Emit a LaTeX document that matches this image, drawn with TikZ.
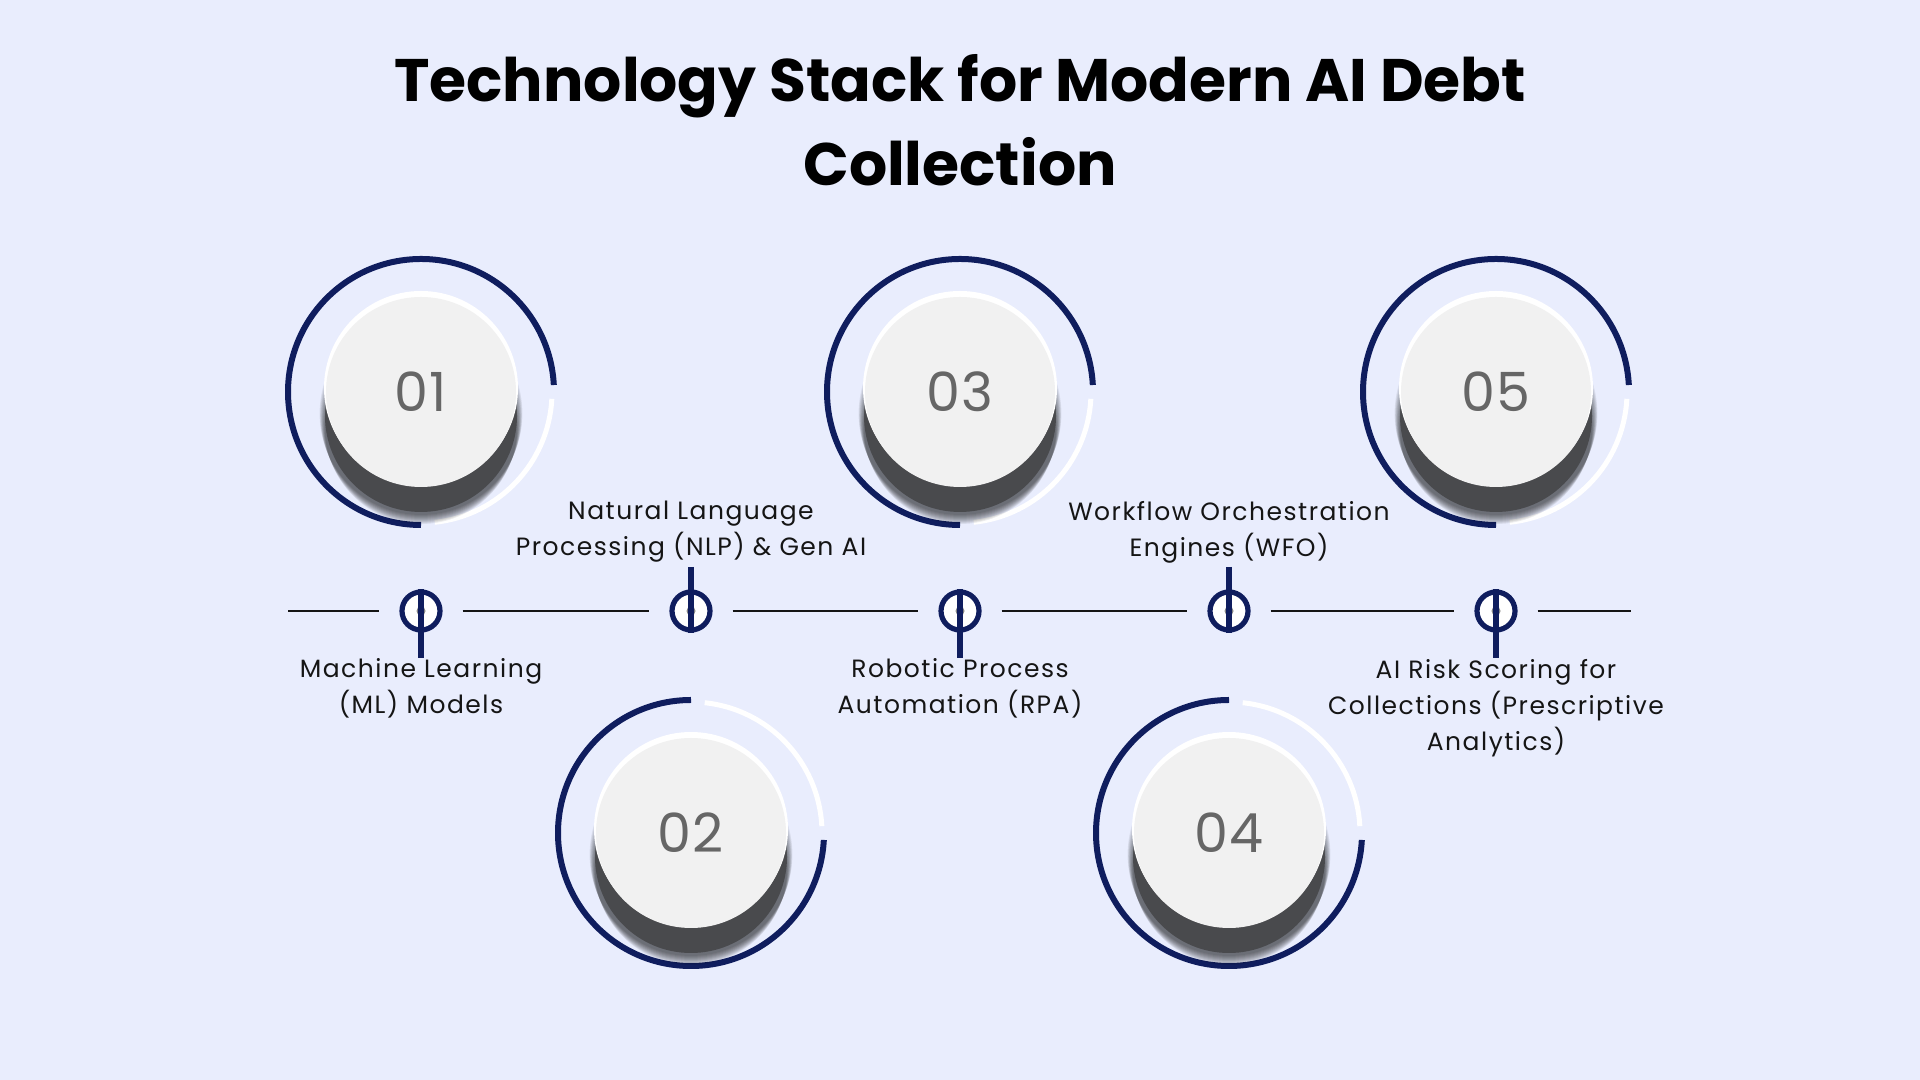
\documentclass[tikz,border=0pt]{standalone}
\usepackage{fontspec}
\setmainfont{Poppins}
\definecolor{bg}{HTML}{E9EDFD}
\definecolor{navy}{HTML}{0F1D5E}
\definecolor{disk}{HTML}{F1F1F1}
\definecolor{numc}{HTML}{666666}
\definecolor{txt}{HTML}{151515}
\tikzset{
  lbl/.style={align=center,font=\fontsize{12.5}{18}\selectfont\addfontfeatures{LetterSpace=6},text=txt},
  numtxt/.style={font=\fontsize{27}{30}\selectfont\addfontfeatures{LetterSpace=2},text=numc},
  dot/.style={circle,draw=navy,line width=2.6pt,fill=white,minimum size=19pt,inner sep=0pt},
  ring/.style={draw=navy,line width=3pt},
  wring/.style={draw=white,line width=2.5pt},
  hline/.style={draw=txt,line width=1.1pt}
}
\begin{document}
\begin{tikzpicture}[x=0.5pt,y=0.5pt]
\fill[bg] (0,0) rectangle (1920,1080);
\node[font=\fontsize{30}{42}\selectfont\bfseries,align=center,text=black] (title) at (960,960) {Technology Stack for Modern AI Debt\\Collection};
% dots
\foreach \i/\x in {1/421,2/691,3/960,4/1229,5/1496}{
  \node[dot] (d\i) at (\x,469) {};
  \fill[numc!80] (d\i) circle (4.5);
}
\coordinate (L0) at (288,469);
\coordinate (L6) at (1631,469);
\draw[hline] (L0) -- ([xshift=-10]d1.west);
\draw[hline] ([xshift=10]d1.east) -- ([xshift=-10]d2.west);
\draw[hline] ([xshift=10]d2.east) -- ([xshift=-10]d3.west);
\draw[hline] ([xshift=10]d3.east) -- ([xshift=-10]d4.west);
\draw[hline] ([xshift=10]d4.east) -- ([xshift=-10]d5.west);
\draw[hline] ([xshift=10]d5.east) -- (L6);
% circles
\foreach \i/\x/\y/\t in {1/421/688/top,2/691/247/bot,3/960/688/top,4/1229/247/bot,5/1496/688/top}{
  \coordinate (c\i) at (\x,\y);
  \ifnum\pdfstrcmp{\t}{top}=0
    \draw[ring] ([shift={(3:133)}]c\i) arc (3:270:133);
    \draw[wring] ([shift={(-3:131)}]c\i) arc (-3:-84:131);
    \draw[ring] ([yshift=-133]c\i) -- (d\i.north);
  \else
    \draw[ring] ([shift={(90:133)}]c\i) arc (90:357:133);
    \draw[wring] ([shift={(84:131)}]c\i) arc (84:3:131);
    \draw[ring] ([yshift=133]c\i) -- (d\i.south);
  \fi
  \foreach \k in {1,...,10}{
    \fill[black,opacity=0.07] ([yshift=-10-\k*0.8]c\i) circle ({97+5-\k*0.6});
  }
  \fill[black!80,opacity=0.6] ([yshift=-12]c\i) circle (96);
  \fill[white] ([yshift=2]c\i) circle (97);
  \fill[disk] (c\i) circle (95);
  \node[numtxt] (n\i) at (c\i) {0\i};
}
\node[lbl] (t1) at (421,670) {};
\node[lbl] at (421,392) {Machine Learning\\(ML) Models};
\node[lbl] at (691,548) {Natural Language\\Processing (NLP) \& Gen AI};
\node[lbl] at (960,392) {Robotic Process\\Automation (RPA)};
\node[lbl] at (1229,548) {Workflow Orchestration\\Engines (WFO)};
\node[lbl] at (1496,372) {AI Risk Scoring for\\Collections (Prescriptive\\Analytics)};
\end{tikzpicture}
\end{document}
